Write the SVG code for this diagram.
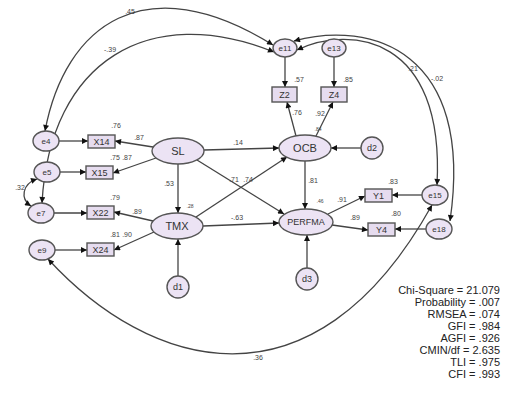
<svg xmlns="http://www.w3.org/2000/svg" width="507" height="394" viewBox="0 0 507 394">
<style>
.n{fill:#ece3f4;stroke:#555;stroke-width:1.4}
.r{fill:#e6dcef;stroke:#555;stroke-width:1.4}
.t{font-family:"Liberation Sans",Arial,sans-serif;fill:#333;text-anchor:middle}
.big{font-size:11px}
.mid{font-size:9px}
.sm{font-size:8px}
.c{font-family:"Liberation Sans",Arial,sans-serif;font-size:7px;fill:#444;text-anchor:middle}
.cs{font-family:"Liberation Sans",Arial,sans-serif;font-size:5px;fill:#444;text-anchor:middle}
.e{fill:none;stroke:#444;stroke-width:1.3;marker-end:url(#a)}
.d{fill:none;stroke:#444;stroke-width:1.3;marker-end:url(#a);marker-start:url(#a)}
.f{font-family:"Liberation Sans",Arial,sans-serif;font-size:11px;fill:#222;text-anchor:end}
</style>
<defs>
<marker id="a" viewBox="0 0 10 10" refX="10" refY="5" markerWidth="8" markerHeight="6" markerUnits="userSpaceOnUse" orient="auto-start-reverse">
<path d="M0,0 L10,5 L0,10 z" fill="#111"/>
</marker>
</defs>
<g id="connectors">
<line class="e" x1="59" y1="141" x2="88" y2="141"/>
<line class="e" x1="60" y1="172" x2="86" y2="172"/>
<line class="e" x1="54" y1="213" x2="87" y2="213"/>
<line class="e" x1="55" y1="250" x2="87" y2="250"/>
<line class="e" x1="153" y1="147" x2="115" y2="141"/>
<line class="e" x1="156" y1="158" x2="113" y2="173"/>
<line class="e" x1="153" y1="221" x2="114" y2="212"/>
<line class="e" x1="154" y1="232" x2="114" y2="250"/>
<line class="e" x1="178" y1="164" x2="178" y2="213"/>
<line class="e" x1="204" y1="150" x2="279" y2="148"/>
<line class="e" x1="197" y1="160" x2="284" y2="214"/>
<line class="e" x1="196" y1="217" x2="287" y2="157"/>
<line class="e" x1="203" y1="226" x2="279" y2="223"/>
<line class="e" x1="305" y1="161" x2="305" y2="209"/>
<line class="e" x1="361" y1="148" x2="331" y2="148"/>
<line class="e" x1="178" y1="276" x2="178" y2="239"/>
<line class="e" x1="307" y1="268" x2="307" y2="235"/>
<line class="e" x1="328" y1="214" x2="365" y2="196"/>
<line class="e" x1="332" y1="225" x2="368" y2="230"/>
<line class="e" x1="422" y1="195" x2="392" y2="195"/>
<line class="e" x1="426" y1="229" x2="395" y2="229"/>
<line class="e" x1="285" y1="57" x2="285" y2="87"/>
<line class="e" x1="334" y1="57" x2="334" y2="87"/>
<line class="e" x1="296" y1="136" x2="287" y2="102"/>
<line class="e" x1="316" y1="136" x2="333" y2="102"/>
<path class="d" d="M273,45 C145,-35 65,25 45,131"/>
<path class="d" d="M274,52 C150,2 50,60 42,203"/>
<path class="d" d="M297,50 C350,25 445,35 437,185"/>
<path class="d" d="M294,41 C370,20 475,50 450,221"/>
<path class="d" d="M48,259 C148,368 312,421 432,205"/>
<path class="d" d="M37,179 C22,184 20,199 31,206"/>
</g>
<g id="e4"><ellipse class="n" cx="46" cy="141" rx="13" ry="10"/><text class="t sm" x="46" y="144">e4</text></g>
<g id="e5"><ellipse class="n" cx="47" cy="172" rx="13" ry="10"/><text class="t sm" x="47" y="175">e5</text></g>
<g id="e7"><ellipse class="n" cx="41" cy="213" rx="13" ry="10"/><text class="t sm" x="41" y="216">e7</text></g>
<g id="e9"><ellipse class="n" cx="42" cy="250" rx="13" ry="10"/><text class="t sm" x="42" y="253">e9</text></g>
<g id="X14"><rect class="r" x="88" y="135" width="27" height="13"/><text class="t mid" x="101.5" y="145">X14</text></g>
<g id="X15"><rect class="r" x="86" y="166" width="27" height="13"/><text class="t mid" x="99.5" y="176">X15</text></g>
<g id="X22"><rect class="r" x="87" y="206" width="27" height="13"/><text class="t mid" x="100.5" y="216">X22</text></g>
<g id="X24"><rect class="r" x="87" y="243" width="27" height="13"/><text class="t mid" x="100.5" y="253">X24</text></g>
<g id="SL"><ellipse class="n" cx="178" cy="151" rx="26" ry="13"/><text class="t big" x="178" y="155">SL</text></g>
<g id="TMX"><ellipse class="n" cx="177" cy="226" rx="26" ry="13"/><text class="t big" x="177" y="230">TMX</text></g>
<g id="OCB"><ellipse class="n" cx="305" cy="148" rx="26" ry="13"/><text class="t big" x="305" y="152">OCB</text></g>
<g id="PERFMA"><ellipse class="n" cx="306" cy="222" rx="27" ry="13"/><text class="t mid" x="306" y="225">PERFMA</text></g>
<g id="d2"><circle class="n" cx="372" cy="148" r="11"/><text class="t mid" x="372" y="151">d2</text></g>
<g id="d1"><circle class="n" cx="178" cy="287" r="11"/><text class="t mid" x="178" y="290">d1</text></g>
<g id="d3"><circle class="n" cx="307" cy="279" r="11"/><text class="t mid" x="307" y="282">d3</text></g>
<g id="Y1"><rect class="r" x="365" y="189" width="27" height="13"/><text class="t mid" x="378.5" y="199">Y1</text></g>
<g id="Y4"><rect class="r" x="368" y="223" width="27" height="13"/><text class="t mid" x="381.5" y="233">Y4</text></g>
<g id="e15"><ellipse class="n" cx="435" cy="195" rx="13" ry="10"/><text class="t sm" x="435" y="198">e15</text></g>
<g id="e18"><ellipse class="n" cx="439" cy="229" rx="13" ry="10"/><text class="t sm" x="439" y="232">e18</text></g>
<g id="e11"><ellipse class="n" cx="285" cy="48" rx="12" ry="9"/><text class="t sm" x="285" y="51">e11</text></g>
<g id="e13"><ellipse class="n" cx="334" cy="48" rx="12" ry="9"/><text class="t sm" x="334" y="51">e13</text></g>
<g id="Z2"><rect class="r" x="272" y="87" width="25" height="15"/><text class="t mid" x="284.5" y="98">Z2</text></g>
<g id="Z4"><rect class="r" x="321" y="87" width="26" height="15"/><text class="t mid" x="334" y="98">Z4</text></g>
<g id="labels">
<text class="c" x="130" y="14">.45</text>
<text class="c" x="110" y="52">-.39</text>
<text class="c" x="116" y="128">.76</text>
<text class="c" x="139" y="140">.87</text>
<text class="c" x="115" y="160">.75</text>
<text class="c" x="127" y="160">.87</text>
<text class="c" x="115" y="200">.79</text>
<text class="c" x="137" y="214">.89</text>
<text class="c" x="115" y="237">.81</text>
<text class="c" x="127" y="237">.90</text>
<text class="c" x="169" y="186">.53</text>
<text class="cs" x="190" y="208">.28</text>
<text class="c" x="238" y="145">.14</text>
<text class="c" x="234" y="182">.71</text>
<text class="c" x="248" y="182">.74</text>
<text class="c" x="237" y="220">-.63</text>
<text class="c" x="313" y="183">.81</text>
<text class="cs" x="320" y="203">.46</text>
<text class="cs" x="318" y="131">.84</text>
<text class="c" x="342" y="202">.91</text>
<text class="c" x="355" y="220">.89</text>
<text class="c" x="393" y="184">.83</text>
<text class="c" x="396" y="216">.80</text>
<text class="c" x="299" y="82">.57</text>
<text class="c" x="348" y="82">.85</text>
<text class="c" x="297" y="115">.76</text>
<text class="c" x="320" y="116">.92</text>
<text class="c" x="413" y="71">.21</text>
<text class="c" x="437" y="81">-.02</text>
<text class="c" x="20" y="190">.32</text>
<text class="c" x="258" y="360">.36</text>
</g>
<g id="fit">
<text class="f" x="500" y="294">Chi-Square = 21.079</text>
<text class="f" x="500" y="306">Probability = .007</text>
<text class="f" x="500" y="318">RMSEA = .074</text>
<text class="f" x="500" y="330">GFI = .984</text>
<text class="f" x="500" y="342">AGFI = .926</text>
<text class="f" x="500" y="354">CMIN/df = 2.635</text>
<text class="f" x="500" y="366">TLI = .975</text>
<text class="f" x="500" y="378">CFI = .993</text>
</g>
</svg>
